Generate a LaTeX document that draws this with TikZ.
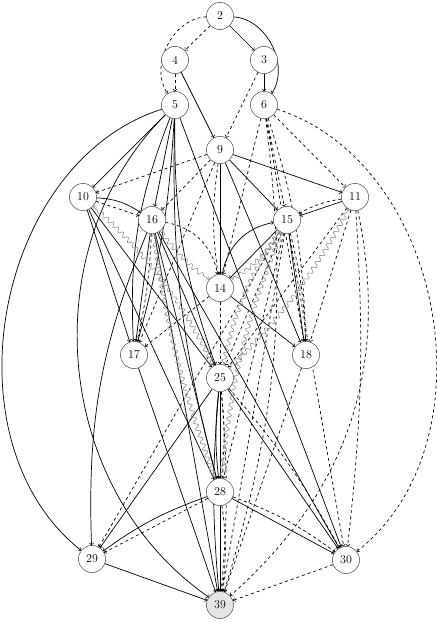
\documentclass[tikz,border=0pt]{standalone}
\usetikzlibrary{decorations.pathmorphing}
\begin{document}
\begin{tikzpicture}[x=1pt,y=-1pt,
  v/.style={circle,draw=black!70,minimum size=27pt,inner sep=0pt,fill=white,font=\large},
  s/.style={->,line width=0.7pt},
  d/.style={->,line width=0.7pt,dashed},
  w/.style={->,black!45,line width=0.6pt,decorate,decoration={snake,amplitude=2.2pt,segment length=7pt,post length=4pt,pre length=2pt}}]
\useasboundingbox (0,0) rectangle (437,622);
% nodes first for names
\node[v] (n2) at (220,16) {2};
\node[v] (n3) at (264,60) {3};
\node[v] (n4) at (175,60) {4};
\node[v] (n5) at (175,105) {5};
\node[v] (n6) at (264,105) {6};
\node[v] (n9) at (220,150) {9};
\node[v] (n10) at (83,197) {10};
\node[v] (n11) at (355,197) {11};
\node[v] (n15) at (287,220) {15};
\node[v] (n16) at (152,220) {16};
\node[v] (n14) at (220,288) {14};
\node[v] (n17) at (134,355) {17};
\node[v] (n18) at (306,355) {18};
\node[v] (n25) at (220,378) {25};
\node[v] (n28) at (220,492) {28};
\node[v] (n29) at (92,559) {29};
\node[v] (n30) at (346,560) {30};
\node[v,fill=black!10] (n39) at (220,605) {39};
% top
\draw[d] (n2) -- (n4);
\draw[s] (n2) -- (n3);
\draw[d] (n2) to[bend right=60] (n5);
\draw[s] (n2) to[bend left=60] (n6);
\draw[d] (n4) -- (n5);
\draw[s] (n4) -- (n9);
\draw[s] (n3) -- (n6);
\draw[d] (n3) -- (n9);
% 5
\draw[s] (n5) -- (n10);
\draw[s] (n5) -- (n16);
\draw[s] (n5) to[bend right=12] (n17);
\draw[s] (n5) to[bend left=6] (n17);
\draw[s] (n5) to[bend right=62] (n29);
\draw[s] (n5) to[bend right=50] (n39);
\draw[s] (n5) -- (n30);
\draw[s] (n5) to[bend right=10] (n25);
\draw[s] (n5) to[bend right=8] (n28);
% 6
\draw[d] (n6) -- (n14);
\draw[d] (n6) -- (n15);
\draw[d] (n6) -- (n11);
\draw[d] (n6) -- (n18);
\draw[d] (n6) to[bend left=8] (n18);
\draw[d] (n6) to[bend left=62] (n30);
\draw[d] (n6) to[bend left=12] (n39);
% 9
\draw[d] (n9) -- (n10);
\draw[s] (n9) -- (n11);
\draw[s] (n9) -- (n15);
\draw[d] (n9) -- (n16);
\draw[s] (n9) -- (n14);
\draw[d] (n9) to[bend right=8] (n14);
\draw[s] (n9) -- (n18);
\draw[d] (n9) -- (n17);
\draw[d] (n9) -- (n25);
% 10
\draw[s] (n10) to[bend left=15] (n16);
\draw[d] (n10) -- (n16);
\draw[s] (n10) -- (n17);
\draw[s] (n10) -- (n25);
\draw[s] (n10) -- (n28);
% 11
\draw[s] (n11) -- (n15);
\draw[d] (n11) to[bend right=10] (n15);
\draw[d] (n11) -- (n18);
\draw[d] (n11) -- (n25);
\draw[d] (n11) to[bend left=30] (n39);
\draw[d] (n11) to[bend left=5] (n30);
% 14
\draw[s] (n14) to[bend left=35] (n15);
\draw[s] (n14) -- (n18);
\draw[d] (n14) -- (n17);
% 15
\draw[s] (n15) -- (n14);
\draw[s] (n15) -- (n18);
\draw[d] (n15) to[bend left=6] (n18);
\draw[d] (n15) -- (n25);
\draw[d] (n15) -- (n28);
\draw[d] (n15) -- (n39);
\draw[d] (n15) -- (n29);
\draw[d] (n15) -- (n30);
% 16
\draw[d] (n16) to[bend left=35] (n14);
\draw[s] (n16) -- (n17);
\draw[d] (n16) to[bend left=5] (n17);
\draw[s] (n16) -- (n25);
\draw[s] (n16) -- (n28);
\draw[s] (n16) -- (n39);
\draw[s] (n16) to[bend right=12] (n29);
\draw[s] (n16) -- (n30);
% lower
\draw[s] (n17) -- (n39);
\draw[d] (n18) -- (n39);
\draw[s] (n25) -- (n28);
\draw[s] (n25) to[bend right=6] (n28);
\draw[d] (n25) to[bend left=6] (n28);
\draw[s] (n25) -- (n29);
\draw[s] (n25) -- (n30);
\draw[d] (n25) to[bend left=6] (n30);
\draw[s] (n25) to[bend right=5] (n39);
\draw[d] (n25) to[bend left=5] (n39);
\draw[s] (n28) to[bend right=8] (n29);
\draw[d] (n28) -- (n29);
\draw[s] (n28) -- (n30);
\draw[d] (n28) to[bend left=8] (n30);
\draw[s] (n28) -- (n39);
\draw[d] (n28) to[bend left=8] (n39);
\draw[s] (n29) -- (n39);
\draw[d] (n30) -- (n39);
% wavy (offset by bending so they stay visible)
\draw[w] (n25) to[bend right=10] (n10);
\draw[w] (n28) to[bend left=6] (n16);
\draw[w] (n16) to[bend right=8] (n14);
\draw[w] (n14) to[bend right=12] (n15);
\draw[w] (n28) to[bend left=8] (n15);
\draw[w] (n25) to[bend right=8] (n11);
\draw[w] (n25) to[bend left=10] (n15);
% redraw nodes on top
\foreach \n in {2,3,4,5,6,9,10,11,14,15,16,17,18,25,28,29,30}{\node[v] at (n\n) {\n};}
\node[v,fill=black!10] at (n39) {39};
\end{tikzpicture}
\end{document}
